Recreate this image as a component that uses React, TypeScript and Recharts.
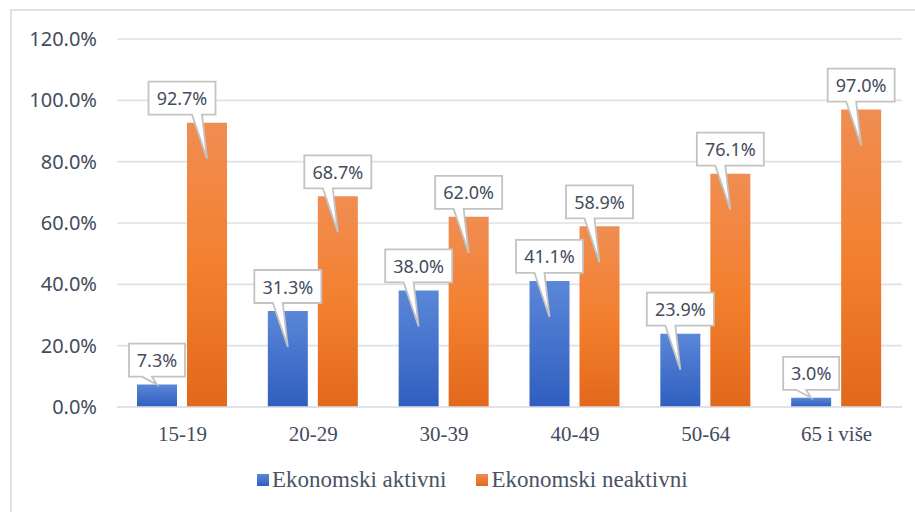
import React from 'react';
import { BarChart, Bar, XAxis, YAxis, CartesianGrid, LabelList } from 'recharts';

const categories = ['15-19', '20-29', '30-39', '40-49', '50-64', '65 i više'];
const aktivni = [7.3, 31.3, 38.0, 41.1, 23.9, 3.0];
const neaktivni = [92.7, 68.7, 62.0, 58.9, 76.1, 97.0];
const yTicks = [0, 20, 40, 60, 80, 100, 120];
const seriesNames = ['Ekonomski aktivni', 'Ekonomski neaktivni'];

const data = categories.map((c, i) => ({ cat: c, aktivni: aktivni[i], neaktivni: neaktivni[i] }));

const BAR_SIZE = 40;
const BAR_GAP = 10;
const TEXT = '#434c5d';
const SANS = '"Noto Sans", "Open Sans", sans-serif';
const SERIF = '"Liberation Serif", "DejaVu Serif", serif';
// manual horizontal nudge of individual callouts (as in the original)
const neaktivniLabelDx: Record<number, number> = { 0: -25 };

function callout(key: string, cx: number, top: number, bottom: number, value: number, dx: number) {
  const text = value.toFixed(1) + '%';
  const w = 11 * text.length + 12;
  const h = 33;
  const boxCx = cx + dx;
  const boxBottom = top - 8;
  const boxTop = boxBottom - h;
  const left = boxCx - w / 2;
  const right = left + w;
  const barH = bottom - top;
  const tipY = barH > 60 ? top + 36 : top;
  const tipX = cx;
  const baseR = Math.min(Math.max(tipX - 5, left + 14), right - 4);
  const baseL = baseR - 10;
  const d = `M${left},${boxTop} H${right} V${boxBottom} H${baseR} L${tipX},${tipY} L${baseL},${boxBottom} H${left} Z`;
  return (
    <g key={key}>
      <path d={d} fill="#ffffff" stroke="#c3c3c3" strokeWidth={1.8} strokeLinejoin="miter" />
      <text
        x={boxCx}
        y={(boxTop + boxBottom) / 2}
        textAnchor="middle"
        dominantBaseline="central"
        fontFamily={SANS}
        fontSize={18}
        fill={TEXT}
      >
        {text}
      </text>
    </g>
  );
}

function getBox(props: any) {
  const vb = props.viewBox && props.viewBox.width !== undefined ? props.viewBox : props;
  return { x: Number(vb.x), y: Number(vb.y), width: Number(vb.width), height: Number(vb.height) };
}

// Rendered on the second series so both callout sets sit above all bars.
const renderAktivniLabel = (props: any) => {
  const { x, y, width, height } = getBox(props);
  const i = props.index;
  const bottom = y + height;
  const ppu = height / neaktivni[i];
  const top = bottom - aktivni[i] * ppu;
  const cx = x + width / 2 - (BAR_SIZE + BAR_GAP);
  return callout('a' + i, cx, top, bottom, aktivni[i], 0);
};

const renderNeaktivniLabel = (props: any) => {
  const { x, y, width, height } = getBox(props);
  const i = props.index;
  return callout('n' + i, x + width / 2, y, y + height, neaktivni[i], neaktivniLabelDx[i] || 0);
};

export default function App() {
  return (
    <div
      style={{
        position: 'fixed',
        left: 0,
        top: 0,
        width: 915,
        height: 512,
        overflow: 'hidden',
        background: '#ffffff',
      }}
    >
      <div
        style={{
          position: 'absolute',
          left: 10,
          top: 9,
          width: 960,
          height: 560,
          border: '2px solid #dde1e8',
          boxSizing: 'border-box',
        }}
      />
      <div style={{ position: 'absolute', left: 0, top: 0 }}>
        <BarChart
          width={915}
          height={512}
          data={data}
          margin={{ top: 39, right: 13, bottom: 65, left: 0 }}
          barSize={BAR_SIZE}
          barGap={BAR_GAP}
        >
          <defs>
            <linearGradient id="gBlue" x1="0" y1="0" x2="0" y2="1">
              <stop offset="0%" stopColor="#5b87d8" />
              <stop offset="100%" stopColor="#2f5ebf" />
            </linearGradient>
            <linearGradient id="gOrange" x1="0" y1="0" x2="0" y2="1">
              <stop offset="0%" stopColor="#f08d52" />
              <stop offset="50%" stopColor="#f3802f" />
              <stop offset="100%" stopColor="#e2681b" />
            </linearGradient>
          </defs>
          <CartesianGrid vertical={false} stroke="#dde1e8" strokeWidth={1.6} />
          <XAxis
            dataKey="cat"
            height={40}
            tickLine={false}
            tickSize={0}
            tickMargin={19}
            axisLine={{ stroke: '#dde1e8', strokeWidth: 1.6 }}
            tick={{ fontFamily: SERIF, fontSize: 21, fill: TEXT }}
          />
          <YAxis
            width={117}
            domain={[0, 120]}
            ticks={yTicks}
            interval={0}
            tickLine={false}
            tickSize={0}
            tickMargin={20}
            axisLine={false}
            tickFormatter={(v: number) => v.toFixed(1) + '%'}
            tick={{ fontFamily: SANS, fontSize: 20, fill: TEXT }}
          />
          <Bar dataKey="aktivni" name={seriesNames[0]} fill="url(#gBlue)" isAnimationActive={false} />
          <Bar dataKey="neaktivni" name={seriesNames[1]} fill="url(#gOrange)" isAnimationActive={false}>
            <LabelList dataKey="aktivni" content={renderAktivniLabel} />
            <LabelList dataKey="neaktivni" content={renderNeaktivniLabel} />
          </Bar>
        </BarChart>
      </div>
      <div
        style={{
          position: 'absolute',
          left: 257,
          top: 467,
          display: 'flex',
          alignItems: 'center',
          fontFamily: "'Liberation Serif', 'Times New Roman', serif",
          fontSize: 23,
          color: '#4a5366',
          whiteSpace: 'nowrap',
        }}
      >
        <span style={{ display: 'inline-block', width: 12, height: 12, background: 'linear-gradient(#5b87d8, #2f5ebf)', marginRight: 3 }} />
        <span style={{ fontFamily: "'Liberation Serif', serif" }}>{seriesNames[0]}</span>
        <span style={{ display: 'inline-block', width: 12, height: 12, background: 'linear-gradient(#f08d52, #e2681b)', marginLeft: 30, marginRight: 3 }} />
        <span style={{ fontFamily: "'Liberation Serif', serif" }}>{seriesNames[1]}</span>
      </div>
    </div>
  );
}
